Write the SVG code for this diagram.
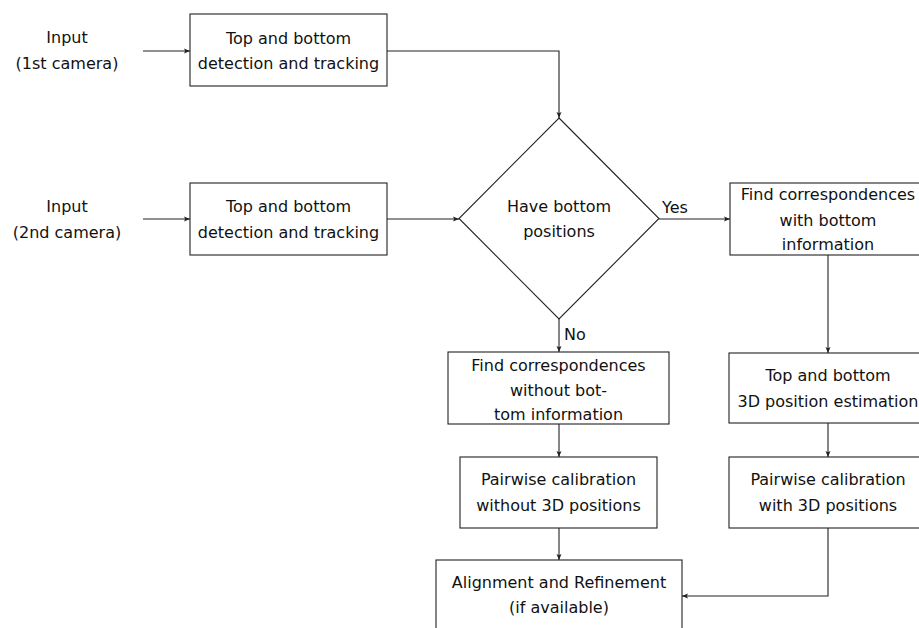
<svg xmlns="http://www.w3.org/2000/svg" width="919" height="628" viewBox="0 0 919 628">
<defs>
<style>
.box{fill:#fff;stroke:#222;stroke-width:1.1}
.t{font-family:"DejaVu Sans",sans-serif;font-size:16px;fill:#111;text-anchor:middle}
.l{font-family:"DejaVu Sans",sans-serif;font-size:16px;fill:#111}
.c{fill:none;stroke:#222;stroke-width:1.1}
</style>
<marker id="ah" markerUnits="userSpaceOnUse" markerWidth="8" markerHeight="6" refX="6" refY="3" orient="auto">
<path d="M0,0.5 L6,3 L0,5.5 L1.2,3 Z" fill="#222"/>
</marker>
</defs>
<rect width="919" height="628" fill="#fff"/>
<g id="connectors">
<path class="c" d="M143,51 H190" marker-end="url(#ah)"/>
<path class="c" d="M143,219 H190" marker-end="url(#ah)"/>
<path class="c" d="M387,51 H559 V118" marker-end="url(#ah)"/>
<path class="c" d="M387,219 H459" marker-end="url(#ah)"/>
<path class="c" d="M659,219 H730" marker-end="url(#ah)"/>
<path class="c" d="M559,319 V352" marker-end="url(#ah)"/>
<path class="c" d="M828,255 V353" marker-end="url(#ah)"/>
<path class="c" d="M559,424 V457" marker-end="url(#ah)"/>
<path class="c" d="M828,423 V457" marker-end="url(#ah)"/>
<path class="c" d="M559,528 V560" marker-end="url(#ah)"/>
<path class="c" d="M828,528 V596 H682" marker-end="url(#ah)"/>
<text class="l" x="662" y="213">Yes</text>
<text class="l" x="564" y="340">No</text>
</g>
<g id="input1">
<text class="t" x="67" y="43">Input</text>
<text class="t" x="67" y="69">(1st camera)</text>
</g>
<g id="input2">
<text class="t" x="67" y="212">Input</text>
<text class="t" x="67" y="238">(2nd camera)</text>
</g>
<g id="detect1">
<rect class="box" x="190" y="14" width="197" height="72"/>
<text class="t" x="288.5" y="43.5">Top and bottom</text>
<text class="t" x="288.5" y="69">detection and tracking</text>
</g>
<g id="detect2">
<rect class="box" x="190" y="183" width="197" height="72"/>
<text class="t" x="288.5" y="212">Top and bottom</text>
<text class="t" x="288.5" y="237.5">detection and tracking</text>
</g>
<g id="decision">
<polygon class="box" points="559,118 659,218.5 559,319 459,218.5"/>
<text class="t" x="559" y="212">Have bottom</text>
<text class="t" x="559" y="237">positions</text>
</g>
<g id="corrWith">
<rect class="box" x="730" y="183" width="200" height="72"/>
<text class="t" x="828" y="200">Find correspondences</text>
<text class="t" x="828" y="225.5">with bottom</text>
<text class="t" x="828" y="250">information</text>
</g>
<g id="corrWithout">
<rect class="box" x="448" y="352" width="221" height="72"/>
<text class="t" x="558.5" y="370.5">Find correspondences</text>
<text class="t" x="558.5" y="395.5">without bot-</text>
<text class="t" x="558.5" y="420">tom information</text>
</g>
<g id="estimation">
<rect class="box" x="729" y="353" width="200" height="70"/>
<text class="t" x="828" y="381">Top and bottom</text>
<text class="t" x="828" y="407">3D position estimation</text>
</g>
<g id="pairWithout">
<rect class="box" x="460" y="457" width="197" height="71"/>
<text class="t" x="558.5" y="485">Pairwise calibration</text>
<text class="t" x="558.5" y="510.5">without 3D positions</text>
</g>
<g id="pairWith">
<rect class="box" x="729" y="457" width="200" height="71"/>
<text class="t" x="828" y="485">Pairwise calibration</text>
<text class="t" x="828" y="510.5">with 3D positions</text>
</g>
<g id="align">
<rect class="box" x="436" y="560" width="246" height="80"/>
<text class="t" x="559" y="588">Alignment and Refinement</text>
<text class="t" x="559" y="613">(if available)</text>
</g>
</svg>
